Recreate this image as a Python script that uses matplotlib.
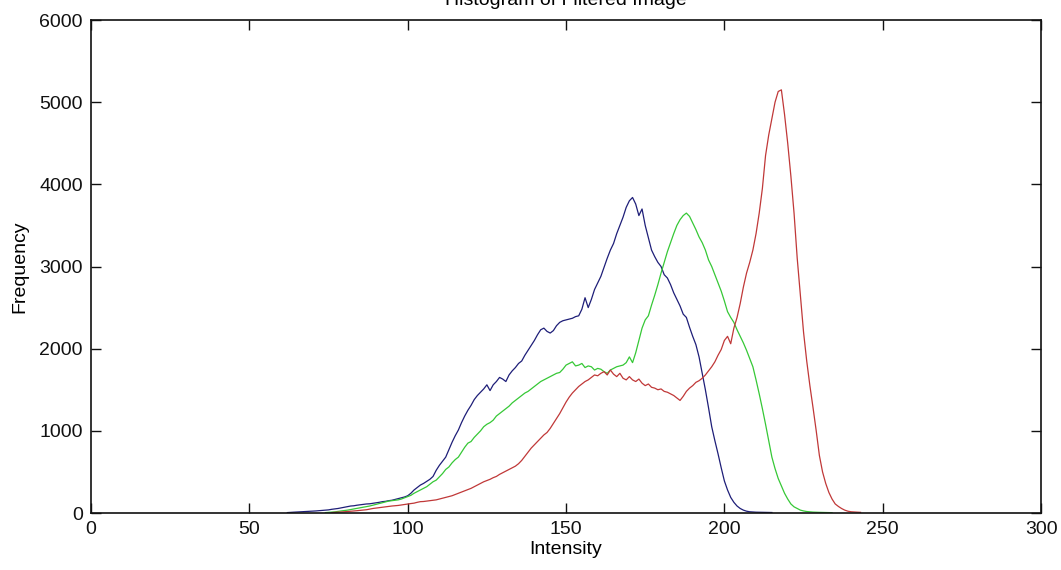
import numpy as np
import matplotlib
matplotlib.use('Agg')
import matplotlib.pyplot as plt

# histogram counts, one value per intensity level
blue_start = 62
blue_counts = [
    5, 8, 10, 12, 14, 15, 18, 20, 22, 25,
    28, 30, 35, 38, 45, 50, 55, 62, 70, 78,
    85, 88, 95, 100, 105, 110, 112, 118, 125, 130,
    138, 142, 150, 155, 165, 175, 185, 195, 210, 240,
    280, 310, 340, 360, 385, 410, 445, 520, 580, 630,
    680, 770, 860, 940, 1010, 1100, 1180, 1250, 1310, 1380,
    1430, 1470, 1510, 1560, 1490, 1560, 1600, 1650, 1630, 1600,
    1680, 1730, 1770, 1820, 1850, 1920, 1980, 2040, 2100, 2170,
    2230, 2250, 2210, 2190, 2220, 2280, 2320, 2340, 2350, 2360,
    2370, 2390, 2400, 2480, 2620, 2500, 2600, 2720, 2800, 2880,
    2990, 3100, 3200, 3280, 3400, 3500, 3600, 3720, 3800, 3840,
    3760, 3620, 3700, 3500, 3350, 3200, 3120, 3050, 3000, 2900,
    2860, 2780, 2680, 2600, 2520, 2420, 2380, 2260, 2150, 2050,
    1900, 1700, 1500, 1280, 1050, 880, 720, 550, 390, 280,
    190, 130, 85, 55, 35, 22, 15, 12, 10, 9,
    8, 8, 7, 6,
]

green_start = 74
green_counts = [
    5, 8, 10, 14, 20, 25, 30, 35, 42, 50,
    55, 62, 70, 78, 85, 95, 105, 115, 125, 135,
    145, 150, 155, 160, 170, 185, 200, 215, 240, 260,
    280, 300, 320, 350, 380, 400, 440, 480, 530, 560,
    610, 650, 680, 740, 800, 850, 870, 920, 960, 1000,
    1050, 1080, 1100, 1130, 1180, 1210, 1240, 1270, 1300, 1340,
    1370, 1400, 1430, 1460, 1480, 1510, 1540, 1570, 1600, 1620,
    1640, 1660, 1680, 1700, 1710, 1750, 1800, 1820, 1840, 1790,
    1800, 1820, 1770, 1790, 1780, 1740, 1760, 1750, 1720, 1700,
    1740, 1760, 1780, 1790, 1800, 1830, 1900, 1830, 1950, 2100,
    2250, 2350, 2400, 2530, 2650, 2780, 2920, 3050, 3180, 3290,
    3400, 3500, 3570, 3620, 3650, 3610, 3530, 3450, 3360, 3290,
    3200, 3080, 3000, 2900, 2800, 2700, 2580, 2450, 2380, 2320,
    2230, 2150, 2070, 1980, 1880, 1780, 1620, 1450, 1270, 1080,
    880, 680, 540, 420, 330, 240, 170, 110, 75, 55,
    35, 25, 18, 14, 11, 9, 8, 7, 6, 5,
    4,
]

red_start = 76
red_counts = [
    5, 8, 10, 12, 15, 18, 20, 24, 28, 32,
    36, 40, 48, 55, 60, 65, 70, 75, 80, 85,
    88, 92, 98, 105, 110, 115, 120, 130, 138, 140,
    145, 150, 155, 160, 170, 180, 190, 200, 210, 225,
    240, 255, 270, 285, 300, 320, 340, 360, 380, 395,
    410, 430, 445, 470, 490, 510, 530, 550, 570, 600,
    640, 690, 740, 790, 830, 870, 910, 950, 980, 1030,
    1090, 1150, 1210, 1280, 1350, 1410, 1460, 1500, 1540, 1570,
    1600, 1620, 1650, 1680, 1670, 1700, 1720, 1680, 1740, 1690,
    1660, 1700, 1640, 1620, 1660, 1620, 1600, 1630, 1580, 1550,
    1570, 1530, 1520, 1500, 1510, 1480, 1470, 1450, 1430, 1400,
    1370, 1420, 1480, 1520, 1550, 1590, 1610, 1640, 1680, 1730,
    1780, 1840, 1920, 1990, 2100, 2150, 2060, 2250, 2380, 2550,
    2750, 2920, 3050, 3200, 3400, 3650, 3950, 4350, 4600, 4800,
    5000, 5130, 5150, 4850, 4500, 4100, 3650, 3100, 2650, 2200,
    1850, 1550, 1280, 1000, 700, 500, 360, 250, 170, 110,
    80, 55, 35, 22, 15, 12, 10, 8,
]

x_ticks = [0, 50, 100, 150, 200, 250, 300]
y_ticks = [0, 1000, 2000, 3000, 4000, 5000, 6000]

plt.rcParams['font.family'] = ['Liberation Sans', 'DejaVu Sans']

fig = plt.figure(figsize=(10.61, 5.70), dpi=100)
ax = fig.add_axes([0.0858, 0.1, 0.8954, 0.8649])

series = [
    (blue_start, blue_counts, '#1e1e78'),
    (green_start, green_counts, '#36c836'),
    (red_start, red_counts, '#c03838'),
]
for start, counts, col in series:
    xs = np.arange(start, start + len(counts))
    ax.plot(xs, counts, color=col, lw=0.9)

ax.set_xlim(0, 300)
ax.set_ylim(0, 6000)
ax.set_xticks(x_ticks)
ax.set_yticks(y_ticks)
ax.tick_params(direction='in', length=7, width=1, top=True, right=True,
               labelsize=14, pad=6, colors='#111111')
for sp in ax.spines.values():
    sp.set_linewidth(1.2)
    sp.set_color('#111111')

ax.set_xlabel('Intensity', fontsize=14, labelpad=2)
ax.set_ylabel('Frequency', fontsize=14, labelpad=8)
ax.set_title('Histogram of Filtered Image', fontsize=14, pad=11)

fig.savefig('out.png', dpi=100)
